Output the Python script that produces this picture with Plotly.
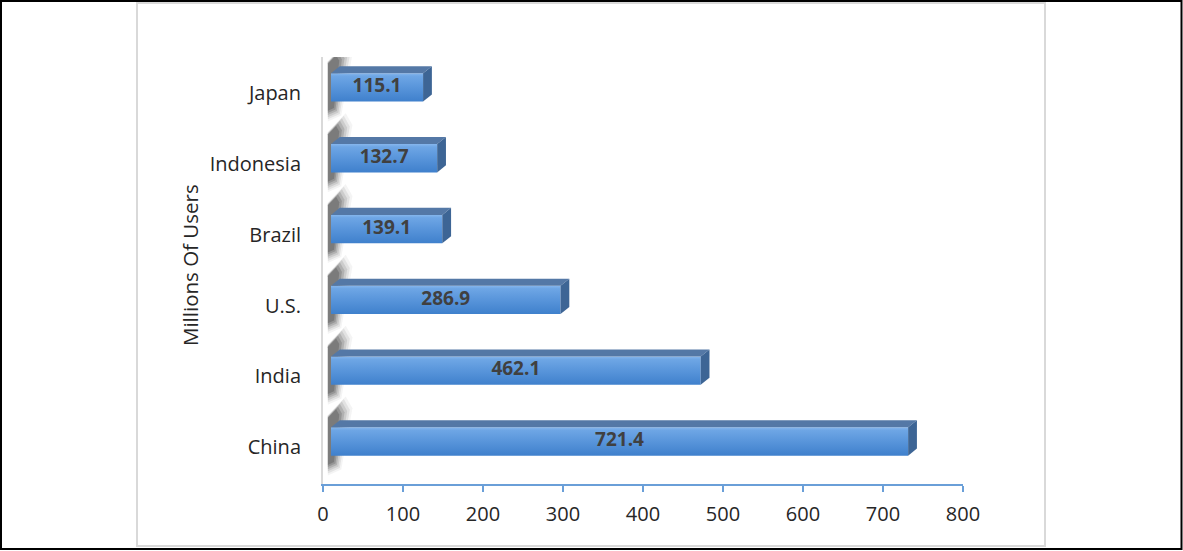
import plotly.graph_objects as go

# ---- data ----
categories = ["China", "India", "U.S.", "Brazil", "Indonesia", "Japan"]
values = [721.4, 462.1, 286.9, 139.1, 132.7, 115.1]
value_labels = ["721.4", "462.1", "286.9", "139.1", "132.7", "115.1"]
x_ticks = [0, 100, 200, 300, 400, 500, 600, 700, 800]
axis_title = "Millions Of Users"

# ---- layout constants (pixels) ----
W, H = 1183, 551
L, R, T, B = 323, 220, 57, 67
YMIN, YMAX = -0.52, 5.51
XMAX = 800

# 3D bar geometry (data units)
D = 10        # front face starts after wall depth
DX = 11       # depth to the right
DY = 0.10     # depth upwards
C_OFF = 0.08  # front face centre above category centre
HALF = 0.20   # half height of front face

FONT = "Open Sans"
TXT = "#262626"


def px_x(px):
    return (px - L) / (W - L - R)


def px_y(py):
    return (H - B - py) / (H - T - B)


fig = go.Figure()

# shadows on the wall (layered for blur)
for i, v in enumerate(values):
    c = i + C_OFF
    for grow, op in [(1.4, 0.05), (1.25, 0.08), (1.1, 0.11), (0.95, 0.15),
                     (0.8, 0.19), (0.65, 0.22)]:
        xs = [6, 6 + 12 * grow, 6 + 22 * grow, 6 + 16 * grow, 6, 6]
        ys = [c - HALF - 0.2 * grow, c - HALF - 0.14 * grow,
              c + HALF + DY + 0.12 * grow, c + HALF + DY + 0.24 * grow,
              c + HALF + DY + 0.05 * grow, c - HALF - 0.2 * grow]
        fig.add_trace(go.Scatter(
            x=xs, y=ys, mode="lines", fill="toself",
            fillcolor=f"rgba(30,30,30,{op})", line=dict(width=0),
            hoverinfo="skip", showlegend=False))

for i, v in enumerate(values):
    c = i + C_OFF
    x0, x1 = D, v + D
    yb, yt = c - HALF, c + HALF
    # front face (vertical gradient)
    fig.add_trace(go.Scatter(
        x=[x0, x1, x1, x0, x0], y=[yb, yb, yt, yt, yb],
        mode="lines", fill="toself", line=dict(width=0),
        fillgradient=dict(type="vertical",
                          colorscale=[[0, "#3f80cc"], [0.55, "#5b97dc"],
                                      [0.9, "#6ea6e5"], [1, "#86b6ec"]]),
        hoverinfo="skip", showlegend=False))
    # top face
    fig.add_trace(go.Scatter(
        x=[x0, x1, x1 + DX, x0 + DX, x0],
        y=[yt, yt, yt + DY, yt + DY, yt],
        mode="lines", fill="toself", fillcolor="#5478a6",
        line=dict(width=0), hoverinfo="skip", showlegend=False))
    # right face
    fig.add_trace(go.Scatter(
        x=[x1, x1 + DX, x1 + DX, x1, x1],
        y=[yb, yb + DY, yt + DY, yt, yb],
        mode="lines", fill="toself", fillcolor="#3d6595",
        line=dict(width=0), hoverinfo="skip", showlegend=False))

# value labels
fig.add_trace(go.Scatter(
    x=[D + v / 2 for v in values],
    y=[i + C_OFF for i in range(len(values))],
    mode="text", text=value_labels,
    textfont=dict(family=FONT, size=19, color="#404040", weight="bold"),
    hoverinfo="skip", showlegend=False))

fig.update_layout(
    width=W, height=H,
    margin=dict(l=L, r=R, t=T, b=B, autoexpand=False),
    paper_bgcolor="white", plot_bgcolor="rgba(0,0,0,0)",
    font=dict(family=FONT, size=20, color=TXT),
    xaxis=dict(range=[0, XMAX], tickmode="array", tickvals=x_ticks,
               ticks="outside", ticklen=6, tickwidth=1.5, tickcolor="#6a9fd8",
               showline=True, linecolor="#6a9fd8", linewidth=2,
               showgrid=False, zeroline=False, ticklabelstandoff=5,
               tickfont=dict(family=FONT, size=20, color=TXT), fixedrange=True),
    yaxis=dict(range=[YMIN, YMAX], tickmode="array",
               tickvals=list(range(len(categories))), ticktext=categories,
               ticks="", showline=True, linecolor="#d9d9d9", linewidth=2,
               showgrid=False, zeroline=False, ticklabelstandoff=16,
               tickfont=dict(family=FONT, size=20, color=TXT), fixedrange=True),
    annotations=[dict(text=axis_title, xref="paper", yref="paper",
                      x=px_x(190), y=px_y(265), textangle=-90,
                      showarrow=False, xanchor="center", yanchor="middle",
                      font=dict(family=FONT, size=20.5, color=TXT))],
    shapes=[
        dict(type="rect", xref="paper", yref="paper",
             x0=px_x(137), x1=px_x(1045), y0=px_y(546), y1=px_y(3),
             line=dict(color="#d9d9d9", width=2), layer="above"),
        dict(type="rect", xref="paper", yref="paper",
             x0=px_x(1), x1=px_x(1181.5), y0=px_y(549), y1=px_y(1),
             line=dict(color="black", width=2), layer="above"),
    ],
)

fig.write_html("out.html",
               config={"displayModeBar": False},
               post_script="document.body.style.margin='0';document.body.style.overflow='hidden';")
